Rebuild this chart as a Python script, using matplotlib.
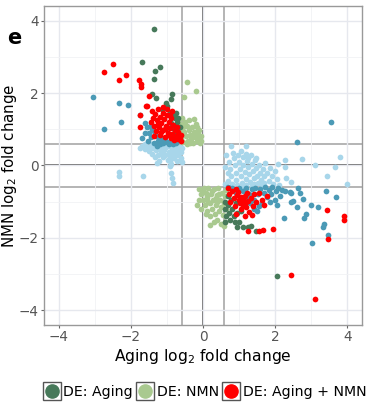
import matplotlib.pyplot as plt
from matplotlib.lines import Line2D
from matplotlib.legend_handler import HandlerTuple

# light blue: changed with aging, not DE
lb_x = [-1.70, -1.62, -1.55, -1.50, -1.45, -1.42, -1.38, -1.33, -1.30, -1.28, -1.25, -1.22, -1.20, -1.15,
        -1.12, -1.10, -1.08, -1.05, -1.02, -0.98, -0.95, -0.92, -0.90, -0.88, -0.85, -0.82, -0.80, -0.78,
        -0.75, -0.72, -0.70, -0.68, -0.65, -0.62, -0.60, -0.58, -0.59, -1.60, -1.40, -0.95, -1.74,
        -2.32, -2.32, -1.65, -1.28, -0.91, -0.91, -0.88, -0.86, -0.82, -0.61,
        0.65, 0.72, 0.75, 0.78, 0.80, 0.85, 0.88, 0.90, 0.92, 0.95, 0.98, 1.00, 1.02, 1.05, 1.08, 1.10,
        1.12, 1.15, 1.18, 1.20, 1.22, 1.25, 1.28, 1.30, 1.32, 1.35, 1.38, 1.40, 1.42, 1.45, 1.48, 1.50,
        1.52, 1.55, 1.58, 1.60, 1.62, 1.65, 1.68, 1.70, 1.72, 1.78, 1.82, 1.85, 1.90, 1.95, 2.00, 2.05,
        2.10, 0.68, 0.70, 0.62, 0.62, 1.12, 1.35, 0.82, 1.05, 1.20,
        0.77, 1.19, 1.25, 1.46, 2.08, 2.27, 2.27, 2.74, 3.09, 3.42, 3.65, 3.79, 4.00, 2.45, 2.30]
lb_y = [0.55, 0.45, 0.52, 0.40, 0.55, 0.32, 0.48, 0.22, 0.42, 0.55, 0.30, 0.12, 0.45, 0.35,
        0.55, 0.22, 0.42, 0.30, 0.50, 0.15, 0.38, 0.25, 0.50, 0.05, 0.32, 0.45, 0.20, 0.55,
        0.35, 0.12, 0.45, 0.28, 0.52, 0.38, 0.20, 0.48, 0.10, 0.60, 0.60, 0.58, 0.49,
        -0.17, -0.30, -0.30, 0.07, 0.12, -0.02, -0.20, -0.34, -0.48, 0.12,
        0.30, 0.10, -0.10, -0.30, -0.50, 0.20, 0.00, -0.20, -0.40, -0.55, 0.30, 0.10, -0.10, -0.30, -0.48, 0.22,
        0.02, -0.18, -0.38, -0.55, 0.12, -0.05, -0.25, -0.45, 0.30, 0.05, -0.15, -0.35, -0.52, 0.15, -0.08, -0.28,
        -0.48, 0.02, -0.20, -0.40, -0.55, -0.10, -0.30, -0.48, 0.08, -0.22, -0.42, -0.08, -0.30, -0.50, -0.15, -0.38,
        -0.55, -0.42, -0.20, -0.05, -0.50, -0.58, -0.58, 0.35, 0.40, 0.32,
        0.53, 0.53, 0.21, 0.21, 0.05, 0.15, -0.04, 0.18, 0.00, -0.30, -0.05, 0.23, -0.51, -0.45, -0.35]

# blue: changed with aging, not DE
bl_x = [-3.04, -2.34, -2.07, -2.26, -2.74, -1.74, -1.69, -1.60, -1.51,
        -1.55, -1.50, -1.45, -1.40, -1.37, -1.35, -1.30, -1.25, -1.23, -1.20, -1.15, -1.10, -1.05, -1.00,
        -0.97, -0.95, -0.90, -0.86, -0.82, -0.78, -0.75, -1.45, -1.28, -1.60,
        2.59, 3.53, 2.40, 2.63, 2.68, 2.77, 2.45, 2.61, 2.24, 2.86, 2.79, 2.99, 3.19, 3.40, 3.67, 3.03,
        3.32, 3.35, 3.46, 1.50, 2.27, 2.49, 2.45,
        0.70, 0.80, 0.90, 1.00, 1.10, 1.20, 1.28, 1.35, 1.40, 1.45, 1.52, 1.58, 1.62, 1.68, 1.72, 1.78,
        1.82, 1.88, 1.92, 1.98, 2.02, 2.08, 2.12, 2.18, 1.55, 1.30, 1.85, 2.05, 1.42, 1.25]
bl_y = [1.89, 1.73, 1.67, 1.20, 1.00, 1.39, 0.76, 1.18, 0.67,
        1.05, 0.90, 0.78, 1.00, 0.95, 0.62, 0.80, 0.68, 0.76, 0.58, 0.72, 0.62, 0.76, 0.66,
        1.04, 0.58, 0.70, 0.67, 0.60, 0.72, 0.62, 1.12, 0.55, 0.90,
        0.65, 1.20, -0.74, -0.62, -0.76, -0.94, -1.00, -1.14, -1.45, -1.35, -1.45, -1.10, -1.14, -0.71, -0.88, -2.14,
        -1.69, -1.63, -1.91, -1.26, -0.71, -0.98, -0.76,
        -0.60, -0.62, -0.75, -0.62, -0.70, -0.62, -0.78, -0.65, -0.95, -0.62, -0.80, -0.65, -1.05, -0.75, -0.60, -0.88,
        -0.68, -0.78, -0.60, -0.95, -0.70, -0.62, -0.85, -0.68, -1.12, -1.05, -1.00, -1.10, -1.20, -0.90]

# DE: NMN
lg_x = [-0.43, -0.52, -0.20, -0.17,
        -0.68, -0.62, -0.58, -0.55, -0.52, -0.50, -0.48, -0.45, -0.42, -0.40, -0.38, -0.35, -0.32, -0.30,
        -0.28, -0.25, -0.22, -0.20, -0.18, -0.15, -0.12, -0.10, -0.08, -0.06, -0.14, -0.60, -0.65, -0.55,
        -0.45, -0.35, -0.70, -0.62, -0.25, -0.05, -0.30,
        -0.17, -0.10, -0.05, 0.00, 0.02, 0.05, 0.08, 0.10, 0.12, 0.15, 0.18, 0.19, 0.22, 0.25, 0.28, 0.30,
        0.32, 0.35, 0.38, 0.40, 0.42, 0.45, 0.48, 0.50, 0.52, 0.55, 0.58, 0.60, 0.62, 0.65, -0.05, 0.00,
        0.08, 0.15, 0.25, 0.30, 0.35, 0.45, 0.50, 0.58, 0.65, -0.12, 0.20, 0.40, 0.10]
lg_y = [2.31, 1.89, 2.05, 1.07,
        1.25, 1.15, 1.30, 1.05, 0.92, 1.20, 0.80, 1.10, 0.68, 0.98, 1.25, 0.85, 0.72, 1.05,
        0.62, 0.92, 0.78, 1.15, 0.68, 0.88, 0.98, 0.72, 0.62, 0.80, 0.95, 0.72, 0.88, 0.65,
        0.60, 0.62, 1.00, 0.98, 1.28, 0.67, 0.78,
        -1.10, -0.65, -0.80, -0.95, -0.62, -1.10, -0.75, -1.25, -0.90, -0.62, -1.05, -1.40, -0.78, -1.20, -0.95, -0.65,
        -1.35, -1.10, -0.82, -1.50, -0.62, -1.25, -0.95, -1.62, -0.75, -1.38, -1.05, -0.85, -1.55, -1.20, -1.20, -0.70,
        -1.35, -1.00, -0.70, -1.55, -0.90, -0.78, -1.15, -1.68, -0.68, -0.95, -1.65, -1.00, -0.85]

# DE: Aging
dg_x = [-1.35, -1.69, -1.33, -1.19, -1.36, -1.40, -1.29, -1.03, -0.86, -0.89, -1.14, -0.86, -0.68, -1.00,
        -0.77, -0.77, -0.77, -0.72, -0.80, -0.70, -0.92, -0.75, -0.65, -0.90,
        0.93, 1.10, 1.25, 1.34, 1.46, 2.06, 0.60, 0.62, 0.65, 0.70, 0.72, 0.75, 0.80, 0.85, 0.90, 0.95,
        0.68, 0.78, 1.00, 0.62, 0.88, 1.05]
dg_y = [3.76, 2.85, 2.60, 2.73, 2.38, 1.98, 1.85, 1.72, 1.97, 1.84, 1.55, 1.36, 1.32, 1.64,
        1.30, 1.10, 0.90, 1.20, 1.00, 0.82, 1.45, 1.45, 1.05, 1.18,
        -1.70, -1.70, -1.69, -1.68, -1.80, -3.06, -1.00, -1.20, -1.40, -1.10, -1.30, -1.50, -1.20, -1.40, -1.05, -1.30,
        -0.85, -0.95, -1.55, -1.55, -1.55, -1.25]

# DE: Aging + NMN
rd_x = [-2.49, -2.73, -2.14, -2.33, -1.76, -1.73, -1.71, -1.50, -1.58, -1.74, -1.74, -1.56,
        -1.40, -1.38, -1.35, -1.32, -1.30, -1.28, -1.25, -1.22, -1.20, -1.18, -1.15, -1.12, -1.10, -1.08,
        -1.05, -1.02, -1.00, -0.98, -0.95, -0.92, -0.90, -0.88, -0.85, -0.82, -0.80, -0.78, -0.75, -0.72,
        -0.70, -0.68, -0.65, -0.62, -0.60, -1.25, -1.15, -1.05, -0.95, -1.35, -1.45, -1.00, -0.85, -0.92, -1.10,
        1.25, 1.55, 1.93, 2.45, 3.10, 3.42, 3.90, 3.90, 3.46, 1.65,
        0.68, 0.72, 0.75, 0.80, 0.85, 0.88, 0.92, 0.95, 1.00, 1.02, 1.05, 1.08, 1.10, 1.12, 1.15, 1.18,
        1.20, 1.22, 1.25, 1.28, 1.32, 1.38, 1.42, 1.48, 1.55, 1.62, 1.70, 1.76, 1.05, 0.90, 1.15, 1.35, 0.98]
rd_y = [2.79, 2.59, 2.50, 2.35, 2.37, 2.24, 2.16, 1.91, 1.63, 1.39, 1.05, 1.64,
        1.50, 1.30, 1.10, 1.42, 0.95, 1.25, 1.55, 1.05, 1.35, 0.85, 1.18, 1.45, 0.98, 1.28,
        0.78, 1.10, 1.38, 0.90, 1.20, 1.02, 0.75, 1.30, 0.88, 1.12, 0.70, 0.98, 0.82, 1.05,
        0.72, 0.92, 0.78, 0.68, 0.85, 1.15, 0.92, 1.00, 0.85, 0.82, 1.20, 1.55, 1.50, 1.40, 1.62,
        -1.82, -1.81, -1.75, -3.02, -3.70, -1.22, -1.40, -1.51, -2.03, -1.77,
        -0.62, -0.80, -1.00, -0.70, -0.90, -1.12, -0.65, -0.82, -0.95, -1.05, -0.88, -1.00, -0.92, -1.08, -0.85, -1.00,
        -1.15, -0.75, -0.98, -1.28, -0.90, -1.12, -0.80, -1.02, -0.75, -0.95, -1.10, -0.85, -1.20, -1.35, -1.40, -1.38, -0.72]

col_lb = '#a8d6ea'
col_bl = '#4b9ab6'
col_lg = '#a9c98f'
col_dg = '#47795a'
col_rd = '#ff0000'

thr = 0.585
ticks = [-4, -2, 0, 2, 4]

fig = plt.figure(figsize=(3.77, 4.05), dpi=100)
ax = fig.add_axes([0.117, 0.198, 0.843, 0.787])

ax.set_xlim(-4.4, 4.4)
ax.set_ylim(-4.4, 4.4)
ax.set_xticks(ticks)
ax.set_yticks(ticks)
ax.set_xticks([-3, -1, 1, 3], minor=True)
ax.set_yticks([-3, -1, 1, 3], minor=True)
ax.grid(True, which='major', color='#e6e8ee', linewidth=1.0, zorder=0)
ax.grid(True, which='minor', color='#f1f2f5', linewidth=0.6, zorder=0)
ax.tick_params(which='minor', length=0)
ax.tick_params(which='major', length=2.5, pad=1.5, color='#666666', labelsize=9.8, labelcolor='#555555')
for s in ax.spines.values():
    s.set_color('#999999')
    s.set_linewidth(1.0)

ax.axhline(0, color='#444444', linewidth=1.1, zorder=1)
ax.axvline(0, color='#444444', linewidth=1.1, zorder=1)
for v in (-thr, thr):
    ax.axhline(v, color='#a0a0a0', linewidth=1.1, zorder=1)
    ax.axvline(v, color='#a0a0a0', linewidth=1.1, zorder=1)

ms = 17
ax.scatter(lb_x, lb_y, s=ms, color=col_lb, linewidths=0, zorder=2)
ax.scatter(bl_x, bl_y, s=ms, color=col_bl, linewidths=0, zorder=3)
ax.scatter(lg_x, lg_y, s=ms, color=col_lg, linewidths=0, zorder=3)
ax.scatter(dg_x, dg_y, s=ms, color=col_dg, linewidths=0, zorder=4)
ax.scatter(rd_x, rd_y, s=ms, color=col_rd, linewidths=0, zorder=5)

ax.set_xlabel('Aging log$_2$ fold change', fontsize=11.2, labelpad=2)
ax.set_ylabel('NMN log$_2$ fold change', fontsize=10.8)
ax.yaxis.set_label_coords(-0.078, 0.5)

fig.text(0.018, 0.905, 'e', fontsize=15, fontweight='bold', va='center')

box = dict(marker='s', markersize=12.5, markerfacecolor='white', markeredgecolor='#555555',
           markeredgewidth=1.0, linestyle='none')
handles = []
for c in (col_dg, col_lg, col_rd):
    sq = Line2D([], [], **box)
    dot = Line2D([], [], marker='o', markersize=9.5, color=c, linestyle='none')
    handles.append((sq, dot))
fig.legend(handles, ['DE: Aging', 'DE: NMN', 'DE: Aging + NMN'],
           handler_map={tuple: HandlerTuple(ndivide=1)},
           loc='center', bbox_to_anchor=(0.545, 0.033), ncol=3, frameon=False,
           fontsize=10.2, handlelength=1.0, handletextpad=0.3, columnspacing=0.4,
           borderpad=0.1, borderaxespad=0.1)

plt.savefig('out.png', dpi=100)
